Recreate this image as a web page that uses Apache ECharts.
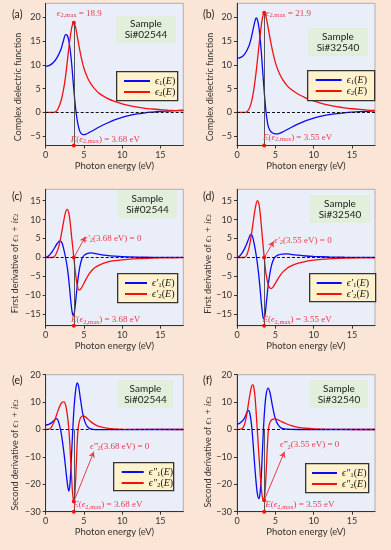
<!DOCTYPE html>
<html><head><meta charset="utf-8">
<script src="https://cdn.jsdelivr.net/npm/echarts@6/dist/echarts.min.js"></script>
<style>html,body{margin:0;padding:0;background:#fbe5d6}#c{width:391px;height:550px}</style>
</head><body><div id="c"></div>
<script>
// ---------- data ----------
const energyTicks = [0, 5, 10, 15];
const ticksEps = [-5, 0, 5, 10, 15, 20];
const ticksFirst = [-15, -10, -5, 0, 5, 10, 15];
const ticksSecond = [-30, -20, -10, 0, 10, 20];
const panelLetters = ['(a)', '(b)', '(c)', '(d)', '(e)', '(f)'];
const sampleIds = ['Si#02544', 'Si#32540', 'Si#02544', 'Si#32540', 'Si#02544', 'Si#32540'];
const eAtMax = [3.68, 3.55, 3.68, 3.55, 3.68, 3.55];
const eps2MaxLabel = ['18.9', '21.9'];
const markValue = [18.9, 21.0, 0, 0, -26.3, -25.8];
const arrowEnd = [null, null, [5.2, 5.5], [4.8, 4.3], [6.3, -8.1], [6.2, -8.1]];

const a_eps1 = [[0,9.7],[0.5,9.9],[1,10.5],[1.5,11.6],[2,13.3],[2.3,15.0],[2.6,16.4],[2.8,16.3],[3,15.3],[3.2,13.2],[3.4,10.2],[3.6,6.3],[3.8,2.6],[4,-0.3],[4.2,-2.4],[4.4,-3.7],[4.6,-4.4],[4.9,-4.7],[5.2,-4.65],[5.6,-4.35],[6,-4.0],[7,-3.1],[8,-2.3],[9,-1.6],[10,-1.05],[11,-0.65],[12,-0.35],[13,-0.1],[14,0.05],[15,0.18],[16,0.28],[17,0.37],[18,0.45]];
const a_eps2 = [[0,0],[1,0],[1.3,0.1],[1.6,0.7],[2,2.4],[2.3,4.5],[2.6,7.6],[2.9,11.8],[3.2,15.8],[3.45,18.2],[3.68,18.9],[3.9,18.0],[4.1,16.3],[4.4,13.6],[4.7,11.2],[5,9.3],[5.5,7.2],[6,5.8],[6.5,4.8],[7,4.0],[8,3.0],[9,2.3],[10,1.8],[11,1.4],[12,1.1],[13,0.85],[14,0.7],[15,0.55],[16,0.45],[17,0.37],[18,0.3]];
const b_eps1 = [[0,11.4],[0.5,11.6],[1,12.3],[1.5,13.8],[1.8,15.3],[2.1,17.5],[2.35,19.3],[2.5,19.9],[2.65,19.6],[2.85,18.0],[3.05,15.0],[3.25,11.0],[3.45,6.5],[3.65,2.4],[3.85,-0.8],[4.05,-2.8],[4.3,-3.8],[4.6,-4.3],[5.0,-4.55],[5.3,-4.55],[5.7,-4.35],[6,-4.1],[7,-3.25],[8,-2.45],[9,-1.75],[10,-1.2],[11,-0.8],[12,-0.5],[13,-0.27],[14,-0.1],[15,0.03],[16,0.13],[17,0.22],[18,0.3]];
const b_eps2 = [[0,0],[1.1,0],[1.4,0.3],[1.7,1.2],[2,3.0],[2.3,6.0],[2.6,10.0],[2.9,14.6],[3.2,18.7],[3.4,20.5],[3.55,21.0],[3.7,20.7],[3.9,19.3],[4.2,16.6],[4.5,14.0],[4.8,11.8],[5.1,10.0],[5.5,8.3],[6,6.8],[6.5,5.7],[7,4.9],[8,3.8],[9,3.0],[10,2.4],[11,1.9],[12,1.5],[13,1.2],[14,0.95],[15,0.75],[16,0.6],[17,0.48],[18,0.4]];
const c_d1 = [[0,0],[0.3,0.3],[0.6,0.9],[0.9,1.7],[1.2,2.7],[1.5,3.7],[1.85,4.4],[2.1,4.0],[2.35,2.3],[2.6,0],[2.85,-3.0],[3.05,-6.5],[3.25,-10.8],[3.45,-14.3],[3.6,-15.3],[3.75,-14.5],[3.95,-11],[4.2,-6],[4.45,-2.6],[4.75,-0.2],[5.0,0.5],[5.4,1.0],[5.9,1.2],[6.5,1.05],[7,0.85],[8,0.55],[9,0.35],[10,0.22],[12,0.1],[14,0.05],[16,0.02],[18,0.01]];
const c_d2 = [[0,0],[0.8,0],[1.1,0.2],[1.4,1.1],[1.7,2.8],[2.0,5.6],[2.3,9.0],[2.55,11.6],[2.8,12.7],[3.0,12.0],[3.2,9.3],[3.4,5.3],[3.68,0],[3.9,-4.2],[4.1,-7.0],[4.35,-8.6],[4.6,-8.3],[5.0,-6.8],[5.5,-4.9],[6,-3.5],[6.5,-2.6],[7,-2.0],[8,-1.25],[9,-0.85],[10,-0.6],[12,-0.3],[14,-0.15],[16,-0.08],[18,-0.05]];
const d_d1 = [[0,0],[0.3,0.3],[0.6,1.0],[0.9,2.0],[1.2,3.3],[1.5,4.8],[1.8,6.1],[2.0,5.7],[2.25,3.5],[2.55,0],[2.8,-4.0],[3.0,-8.0],[3.2,-12.5],[3.4,-15.8],[3.5,-16.2],[3.65,-15.2],[3.85,-11.5],[4.1,-6.8],[4.4,-3.0],[4.7,-0.8],[5.0,0.2],[5.4,0.7],[5.9,0.9],[6.4,0.95],[7,0.85],[8,0.6],[9,0.4],[10,0.28],[12,0.13],[14,0.06],[16,0.03],[18,0.02]];
const d_d2 = [[0,0],[0.9,0],[1.2,0.4],[1.5,2.0],[1.8,5.0],[2.1,9.2],[2.4,13.2],[2.65,15.0],[2.85,14.2],[3.05,11.2],[3.3,5.5],[3.55,0],[3.8,-4.5],[4.1,-7.3],[4.43,-8.2],[4.7,-7.8],[5.0,-6.8],[5.5,-5.1],[6,-3.8],[6.5,-2.9],[7,-2.3],[8,-1.5],[9,-1.0],[10,-0.7],[12,-0.35],[14,-0.18],[16,-0.1],[18,-0.06]];
const e_d1 = [[0,1.6],[0.4,1.9],[0.8,2.5],[1.1,3.3],[1.4,4.0],[1.6,3.4],[1.8,1.6],[2.0,-0.9],[2.2,-4.5],[2.45,-10],[2.7,-16.5],[2.9,-21],[3.05,-22.5],[3.2,-19],[3.35,-11],[3.5,-2.5],[3.6,3],[3.75,9.5],[3.95,15],[4.12,17],[4.3,15.8],[4.55,11],[4.85,5.8],[5.15,2.6],[5.5,0.9],[6,0.15],[7,-0.05],[8,-0.05],[10,-0.02],[18,0]];
const e_d2 = [[0,0],[0.4,0.1],[0.7,0.7],[1.0,2.2],[1.3,4.3],[1.6,6.8],[1.9,8.9],[2.2,10.0],[2.4,10.1],[2.6,9.0],[2.8,6.0],[3.0,1.0],[3.15,-5],[3.3,-13],[3.45,-20.5],[3.58,-25],[3.68,-26.3],[3.8,-24],[3.95,-16.5],[4.1,-6],[4.25,0.5],[4.45,3.5],[4.7,4.8],[4.9,5.0],[5.2,4.6],[5.6,3.6],[6,2.6],[6.5,1.7],[7,1.1],[8,0.5],[9,0.22],[10,0.1],[12,0.03],[18,0]];
const f_d1 = [[0,1.9],[0.4,2.4],[0.8,3.4],[1.1,4.9],[1.35,6.6],[1.5,7.0],[1.65,6.2],[1.85,2.8],[2.0,-1.5],[2.2,-9],[2.45,-18],[2.65,-23.3],[2.85,-25.2],[3.0,-23.5],[3.15,-18],[3.3,-9],[3.45,0],[3.6,7],[3.8,12.8],[4.05,15.1],[4.3,13.5],[4.6,9],[4.9,5],[5.2,2.5],[5.6,0.9],[6,0.3],[7,0.02],[8,0],[18,0]];
const f_d2 = [[0,0],[0.5,0.1],[0.8,0.7],[1.05,2.5],[1.3,6],[1.55,10.5],[1.8,14.5],[2.0,16.3],[2.15,16],[2.35,12],[2.55,4],[2.7,-2.5],[2.9,-11],[3.1,-19],[3.3,-24.5],[3.5,-25.8],[3.62,-24],[3.77,-17.5],[3.93,-8],[4.1,0],[4.3,2.6],[4.6,3.7],[4.95,3.9],[5.3,3.6],[5.8,2.9],[6.5,2.0],[7,1.5],[8,0.8],[9,0.45],[10,0.25],[12,0.08],[14,0.02],[18,0]];

// ---------- layout / style ----------
const BLUE = '#0a0af5', RED = '#f51010', ANN = '#ec3b4a';
const SERIF = "'Liberation Serif','DejaVu Serif',serif";
const SANS = "Lato, 'Open Sans', sans-serif";
const layout = [
  {x:45.7, y:3.3,   w:137.6, h:142.2, ymin:-7,  ymax:23, ticks:ticksEps,    sample:[116,16,60,27],  legend:[116,71,61,29], lgIn:8,   lgW:26, title:[18.3,87]},
  {x:237,  y:3.3,   w:138,   h:142.2, ymin:-7,  ymax:23, ticks:ticksEps,    sample:[308,28,60,28],  legend:[307,70,67,30], lgIn:8.7, lgW:26, title:[210,87]},
  {x:45.7, y:189.3, w:137.6, h:136.4, ymin:-18, ymax:18, ticks:ticksFirst,  sample:[118,190,59,28], legend:[117,273,60,29], lgIn:8,   lgW:22, title:[15,263.5]},
  {x:237,  y:189.3, w:138,   h:136.4, ymin:-18, ymax:18, ticks:ticksFirst,  sample:[310,195,60,28], legend:[309,273,66,28], lgIn:7.7, lgW:25, title:[208,264]},
  {x:45.7, y:374.7, w:137.6, h:137,   ymin:-30, ymax:20, ticks:ticksSecond, sample:[118,380,55,28], legend:[113,462,60,28], lgIn:8.7, lgW:22, title:[15,455]},
  {x:237,  y:374.7, w:138,   h:137,   ymin:-30, ymax:20, ticks:ticksSecond, sample:[310,380,58,28], legend:[305,463,63,29], lgIn:7,   lgW:25, title:[208,452]}
];
const seriesData = [[a_eps1,a_eps2],[b_eps1,b_eps2],[c_d1,c_d2],[d_d1,d_d2],[e_d1,e_d2],[f_d1,f_d2]];
const seriesNames = [['e1','e2'],['e1','e2'],['p1','p2'],['p1','p2'],['q1','q2'],['q1','q2']];
const legendText = {
  e1:'{i|ϵ}{s|1}{n|(}{i|E}{n|)}', e2:'{i|ϵ}{s|2}{n|(}{i|E}{n|)}',
  p1:'{i|ϵ′}{s|1}{n|(}{i|E}{n|)}', p2:'{i|ϵ′}{s|2}{n|(}{i|E}{n|)}',
  q1:'{i|ϵ″}{s|1}{n|(}{i|E}{n|)}', q2:'{i|ϵ″}{s|2}{n|(}{i|E}{n|)}'
};
const yNames = ['Complex dielectric function','Complex dielectric function',
  'First derivative of {m|ϵ}{ms|1}{m| + i}{m|ϵ}{ms|2}','First derivative of {m|ϵ}{ms|1}{m| + i}{m|ϵ}{ms|2}',
  'Second derivative of {m|ϵ}{ms|1}{m| + i}{m|ϵ}{ms|2}','Second derivative of {m|ϵ}{ms|1}{m| + i}{m|ϵ}{ms|2}'];
const annRich = {
  i:{fontFamily:SERIF, fontStyle:'italic', fontSize:9, color:ANN},
  s:{fontFamily:SERIF, fontSize:6.5, color:ANN, padding:[4,0,0,0]},
  n:{fontFamily:SERIF, fontSize:9, color:ANN}
};
// text annotations: [x, y, text]
const annTexts = [
  [[4.4,20.9,'{i|ϵ}{s|2,max}{n| = '+eps2MaxLabel[0]+'}'],[7.8,-5.75,'{i|E}{n|(}{i|ϵ}{s|2,max}{n|) = 3.68 eV}']],
  [[6.7,20.9,'{i|ϵ}{s|2,max}{n| = '+eps2MaxLabel[1]+'}'],[7.9,-5.3,'{i|E}{n|(}{i|ϵ}{s|2,max}{n|) = 3.55 eV}']],
  [[8.77,5.1,'{i|ϵ′}{s|2}{n|(3.68 eV) = 0}'],[7.85,-16.5,'{i|E}{n|(}{i|ϵ}{s|2,max}{n|) = 3.68 eV}']],
  [[8.6,4.55,'{i|ϵ′}{s|2}{n|(3.55 eV) = 0}'],[7.83,-16.5,'{i|E}{n|(}{i|ϵ}{s|2,max}{n|) = 3.55 eV}']],
  [[9.68,-6.1,'{i|ϵ‴}{s|2}{n|(3.68 eV) = 0}'],[8.12,-27.6,'{i|E}{n|(}{i|ϵ}{s|2,max}{n|) = 3.68 eV}']],
  [[9.47,-5.7,'{i|ϵ‴}{s|2}{n|(3.55 eV) = 0}'],[8.2,-27.6,'{i|E}{n|(}{i|ϵ}{s|2,max}{n|) = 3.55 eV}']]
];
const fmtNum = v => String(v).replace('-', '\u2212');

const grids=[], xAxes=[], yAxes=[], series=[], legends=[], graphics=[];
layout.forEach((L, k) => {
  grids.push({left:L.x, top:L.y, width:L.w, height:L.h, show:true, backgroundColor:'#e9eef8', borderColor:'#888', borderWidth:0.6, outerBoundsMode:'none'});
  xAxes.push({gridIndex:k, type:'value', min:0, max:18,
    axisLine:{show:true, onZero:false, lineStyle:{color:'#333', width:1}},
    axisTick:{show:true, length:3, customValues:energyTicks, lineStyle:{color:'#333'}},
    axisLabel:{customValues:energyTicks, fontSize:9, color:'#333', margin:5, fontFamily:SANS, formatter:fmtNum},
    splitLine:{show:false},
    name:'Photon energy (eV)', nameLocation:'middle', nameGap:15,
    nameTextStyle:{fontSize:9.5, color:'#333', fontFamily:SANS}});
  yAxes.push({gridIndex:k, type:'value', min:L.ymin, max:L.ymax,
    axisLine:{show:true, onZero:false, lineStyle:{color:'#333', width:1}},
    axisTick:{show:true, length:3, customValues:L.ticks, lineStyle:{color:'#333'}},
    axisLabel:{customValues:L.ticks, fontSize:9, color:'#333', margin:5, fontFamily:SANS, formatter:fmtNum},
    splitLine:{show:false}});
  graphics.push({type:'text', x:L.title[0], y:L.title[1], rotation:Math.PI/2, z:11,
    style:{text:yNames[k], align:'center', verticalAlign:'middle', fontSize:9, fontFamily:SANS, fill:'#333',
      rich:{m:{fontFamily:SERIF, fontStyle:'italic', fontSize:9.5, fill:'#333'}, ms:{fontFamily:SERIF, fontSize:6.5, fill:'#333', padding:[3,0,0,0]}}}});

  const E = eAtMax[k], mv = markValue[k];
  const vTop = k < 2 ? mv : 0;
  const mlData = [[{coord:[E, L.ymin], symbol:'none'}, {coord:[E, vTop], symbol:'none', lineStyle:{color:'#444', width:0.9, type:'solid'}}]];
  if (arrowEnd[k]) mlData.push([{coord:[E, mv], symbol:'none'}, {coord:arrowEnd[k], symbol:'arrow', symbolSize:[5,6], lineStyle:{color:ANN, width:1, type:'solid'}}]);
  const mpData = [
    {coord:[E, mv], symbol:'circle', symbolSize:4, itemStyle:{color:RED}, label:{show:false}},
    {coord:[E, L.ymin], symbol:'circle', symbolSize:4, itemStyle:{color:RED}, label:{show:false}}
  ];
  annTexts[k].forEach(t => mpData.push({coord:[t[0], t[1]], symbol:'circle', symbolSize:0,
    label:{show:true, position:'inside', formatter:t[2], rich:annRich}}));

  series.push({type:'line', name:seriesNames[k][0], xAxisIndex:k, yAxisIndex:k, data:seriesData[k][0],
    symbol:'none', smooth:0.3, lineStyle:{color:BLUE, width:1.3}, itemStyle:{color:BLUE}, z:3,
    markLine:{silent:true, symbol:'none', label:{show:false}, data:[{yAxis:0}], lineStyle:{type:[3,2], color:'#111', width:1}, animation:false}});
  series.push({type:'line', name:seriesNames[k][1], xAxisIndex:k, yAxisIndex:k, data:seriesData[k][1],
    symbol:'none', smooth:0.3, lineStyle:{color:RED, width:1.3}, itemStyle:{color:RED}, z:3,
    markLine:{silent:true, symbol:'none', label:{show:false}, data:mlData, animation:false},
    markPoint:{silent:true, data:mpData, animation:false}});

  const lg = L.legend;
  graphics.push({type:'rect', left:lg[0], top:lg[1], z:10, shape:{width:lg[2], height:lg[3]}, style:{fill:'#fff2cc', stroke:'#333', lineWidth:1.3}});
  legends.push({left:lg[0]+L.lgIn, top:lg[1]+4.5, padding:0, orient:'vertical', z:20, data:seriesNames[k], selectedMode:false,
    itemWidth:L.lgW, itemHeight:2, itemGap:0, icon:'rect',
    formatter: n => legendText[n],
    textStyle:{rich:{i:{fontFamily:SERIF, fontStyle:'italic', fontSize:10, color:'#111', lineHeight:10},
      s:{fontFamily:SERIF, fontSize:7, color:'#111', padding:[4,0,0,0], lineHeight:6},
      n:{fontFamily:SERIF, fontSize:10, color:'#111', lineHeight:10}}}});

  const sp = L.sample;
  graphics.push({type:'rect', left:sp[0], top:sp[1], z:10, shape:{width:sp[2], height:sp[3]}, style:{fill:'#e2efda'}});
  graphics.push({type:'text', x:sp[0]+sp[2]/2, y:sp[1]+sp[3]/2, z:11, style:{text:'Sample\n'+sampleIds[k], align:'center', verticalAlign:'middle', fontSize:10, lineHeight:11, fontFamily:SANS, fill:'#222'}});
  graphics.push({type:'text', x:k%2===0?12:203, y:[14.5,14.5,196.7,196.7,380.7,380.7][k], z:11, style:{text:panelLetters[k], verticalAlign:'middle', fontSize:10.5, fontFamily:SANS, fill:'#222'}});
});

const chart = echarts.init(document.getElementById('c'), null, {renderer:'canvas'});
chart.setOption({backgroundColor:'#fbe5d6', animation:false, grid:grids, xAxis:xAxes, yAxis:yAxes, series:series, legend:legends, graphic:graphics});
</script></body></html>
